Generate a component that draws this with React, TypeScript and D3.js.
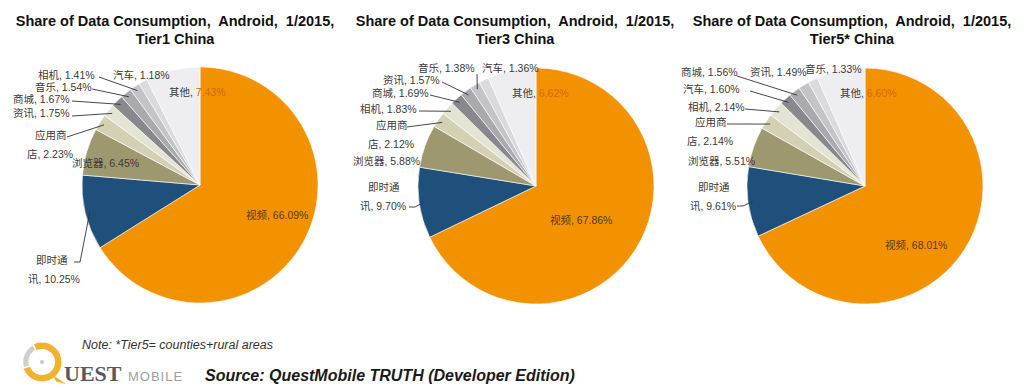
import React from "react";
import * as d3 from "d3";

// categories and shares (%) per tier, clockwise from 12 o'clock
const CATS_T1 = ["视频", "即时通讯", "浏览器", "应用商店", "资讯", "商城", "音乐", "相机", "汽车", "其他"];
const VALS_T1 = [66.09, 10.25, 6.45, 2.23, 1.75, 1.67, 1.54, 1.41, 1.18, 7.43];

const CATS_T3 = ["视频", "即时通讯", "浏览器", "应用商店", "相机", "商城", "资讯", "音乐", "汽车", "其他"];
const VALS_T3 = [67.86, 9.7, 5.88, 2.12, 1.83, 1.69, 1.57, 1.38, 1.36, 6.62];

const CATS_T5 = ["视频", "即时通讯", "浏览器", "应用商店", "相机", "汽车", "商城", "资讯", "音乐", "其他"];
const VALS_T5 = [68.01, 9.61, 5.51, 2.14, 2.14, 1.6, 1.56, 1.49, 1.33, 6.6];

const TITLE_LINE1 = "Share of Data Consumption,  Android,  1/2015,";
const TITLES_LINE2 = ["Tier1 China", "Tier3 China", "Tier5* China"];

// slice colours by position
const COLORS = [
  "#F39200", "#1F4F7B", "#9E9870", "#D3D0B3", "#E5E4D4",
  "#89898D", "#A9A9AE", "#C3C3C8", "#D9D9DE", "#EEEEF1",
];

const FONT = "'Liberation Sans', Arial, 'Noto Sans CJK SC', sans-serif";
const R = 118;

// label layout (x, baseline y, optional split of the name, leader start)
type Lab = { x: number; y: number; split?: number; lead?: [number, number]; stub?: boolean };
const LAYOUT_T1: Record<string, Lab> = {
  视频: { x: 246, y: 219 },
  即时通讯: { x: 28, y: 264, split: 3, lead: [74, 262], stub: true },
  浏览器: { x: 72, y: 167 },
  应用商店: { x: 27, y: 139, split: 3, lead: [67, 137] },
  资讯: { x: 13, y: 117, lead: [72, 116] },
  商城: { x: 13, y: 103, lead: [72, 101] },
  音乐: { x: 35, y: 91, lead: [92, 89] },
  相机: { x: 38, y: 79, lead: [99, 77] },
  汽车: { x: 113, y: 79 },
  其他: { x: 169, y: 96 },
};
const LAYOUT_T3: Record<string, Lab> = {
  视频: { x: 550, y: 224 },
  即时通讯: { x: 360, y: 191, split: 3, lead: [409, 207], stub: true },
  浏览器: { x: 353, y: 165 },
  应用商店: { x: 368, y: 129, split: 3, lead: [407, 127] },
  相机: { x: 360, y: 113, lead: [419, 111] },
  商城: { x: 372, y: 97, lead: [430, 95] },
  资讯: { x: 383, y: 84, lead: [442, 82] },
  音乐: { x: 418, y: 72, lead: [477, 74] },
  汽车: { x: 482, y: 72 },
  其他: { x: 512, y: 97 },
};
const LAYOUT_T5: Record<string, Lab> = {
  视频: { x: 885, y: 249 },
  即时通讯: { x: 690, y: 191, split: 3, lead: [737, 206], stub: true },
  浏览器: { x: 688, y: 165 },
  应用商店: { x: 687, y: 126, split: 3, lead: [727, 124] },
  相机: { x: 688, y: 111, lead: [745, 109] },
  汽车: { x: 683, y: 93, lead: [750, 91] },
  商城: { x: 681, y: 76, lead: [737, 76] },
  资讯: { x: 750, y: 76 },
  音乐: { x: 805, y: 73 },
  其他: { x: 840, y: 97 },
};

const PIES = [
  { cats: CATS_T1, vals: VALS_T1, cx: 200, cy: 185, tx: 175, layout: LAYOUT_T1 },
  { cats: CATS_T3, vals: VALS_T3, cx: 536, cy: 186, tx: 515, layout: LAYOUT_T3 },
  { cats: CATS_T5, vals: VALS_T5, cx: 865, cy: 186, tx: 852, layout: LAYOUT_T5 },
];

const pie = d3.pie<number>().sort(null).value((d) => d);
const arc = d3.arc<d3.PieArcDatum<number>>().innerRadius(0).outerRadius(R);
const edge = d3.arc<d3.PieArcDatum<number>>().innerRadius(R * 0.96).outerRadius(R * 0.96);

function Pie({ p, i }: { p: (typeof PIES)[number]; i: number }) {
  const arcs = pie(p.vals);
  return (
    <g>
      <text x={p.tx} y={26} textAnchor="middle" fontFamily={FONT} fontWeight="bold" fontSize={14.5} fill="#111" style={{ whiteSpace: "pre" }}>
        {TITLE_LINE1}
      </text>
      <text x={p.tx} y={44} textAnchor="middle" fontFamily={FONT} fontWeight="bold" fontSize={14.5} fill="#111">
        {TITLES_LINE2[i]}
      </text>
      <g transform={`translate(${p.cx},${p.cy})`}>
        {arcs.map((a, k) => (
          <path key={k} d={arc(a) || ""} fill={COLORS[k]} stroke="#fff" strokeWidth={0.6} />
        ))}
      </g>
      {arcs.map((a, k) => {
        const name = p.cats[k];
        const lab = p.layout[name];
        if (!lab) return null;
        const val = `${p.vals[k].toFixed(2)}%`;
        const [ex, ey] = edge.centroid(a);
        const end: [number, number] = [p.cx + ex, p.cy + ey];
        let line = null;
        if (lab.lead) {
          const pts: [number, number][] = lab.stub
            ? [lab.lead, [lab.lead[0] + 6, lab.lead[1]], end]
            : [lab.lead, end];
          line = <path d={d3.line()(pts) || ""} fill="none" stroke="#333" strokeWidth={0.9} />;
        }
        const isVideo = k === 0;
        const col = isVideo ? "#5A3A18" : "#3A3A3A";
        if (lab.split) {
          return (
            <g key={k}>
              {line}
              <text x={lab.x + 8} y={lab.y} fontFamily={FONT} fontSize={10.5} fill={col}>
                {name.slice(0, lab.split)}
              </text>
              <text x={lab.x} y={lab.y + 19} fontFamily={FONT} fontSize={10.5} fill={col}>
                {`${name.slice(lab.split)}, ${val}`}
              </text>
            </g>
          );
        }
        const other = k === p.cats.length - 1;
        return (
          <g key={k}>
            {line}
            <text x={lab.x} y={lab.y} fontFamily={FONT} fontSize={10.5} fill={col} style={{ whiteSpace: "pre" }}>
              {`${name}, `}
              <tspan fill={other ? "#D06C00" : col}>{val}</tspan>
            </text>
          </g>
        );
      })}
    </g>
  );
}

function Logo() {
  const ring = d3.arc()({ innerRadius: 13, outerRadius: 19.5, startAngle: 0, endAngle: Math.PI * 2 }) || "";
  const grey = d3.arc()({ innerRadius: 13, outerRadius: 19.5, startAngle: -Math.PI * 0.6, endAngle: -Math.PI * 0.15 }) || "";
  return (
    <g transform="translate(42,362)">
      <path d={ring} fill="#F2B230" />
      <path d={grey} fill="#D0D0D0" stroke="#fff" strokeWidth={1.5} />
      <path d="M11,13 L24,22 L14,19.5 Z" fill="#F2B230" />
      <circle r={2} fill="#C8C8C8" />
    </g>
  );
}

export default function App() {
  return (
    <svg width={1024} height={390} style={{ position: "absolute", left: 0, top: 0, background: "#fff" }}>
      <rect width={1024} height={390} fill="#fff" />
      {PIES.map((p, i) => (
        <Pie key={i} p={p} i={i} />
      ))}
      <text x={82} y={349} fontFamily={FONT} fontStyle="italic" fontSize={12.5} fill="#333">
        Note: *Tier5= counties+rural areas
      </text>
      <Logo />
      <text x={64} y={381} fontFamily="'Liberation Serif', 'DejaVu Serif', serif" fontWeight="bold" fontSize={22} fill="#5A5A5A">
        UEST
      </text>
      <text x={128} y={381} fontFamily={FONT} fontSize={13} letterSpacing={1} fill="#A0A0A0">
        MOBILE
      </text>
      <text x={205} y={381} fontFamily={FONT} fontStyle="italic" fontWeight="bold" fontSize={16} fill="#1A1A1A">
        Source: QuestMobile TRUTH (Developer Edition)
      </text>
    </svg>
  );
}
